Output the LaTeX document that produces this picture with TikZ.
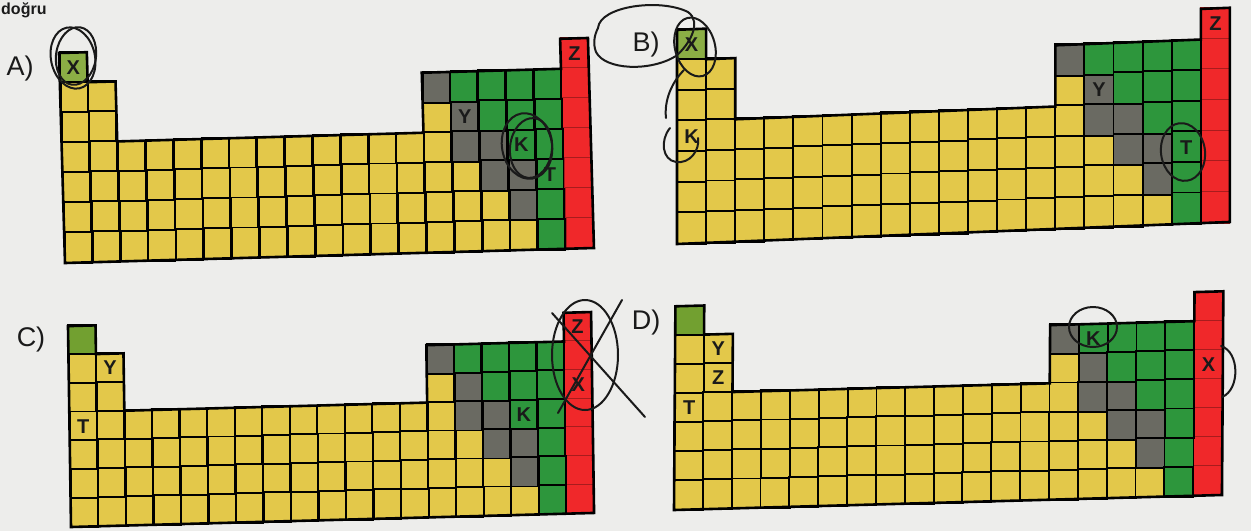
\documentclass[tikz,border=0pt]{standalone}
\usepackage{fontspec}
\setmainfont{Liberation Sans}

\definecolor{paper}{HTML}{EDEDEB}
\definecolor{ptyel}{HTML}{E3C84A}
\definecolor{ptgrn}{HTML}{2D963C}
\definecolor{ptgry}{HTML}{6A6A62}
\definecolor{ptred}{HTML}{F0282A}
\definecolor{ptolia}{HTML}{8BAE45}
\definecolor{ptolib}{HTML}{72A030}
\definecolor{ink}{HTML}{1A1A1A}

\tikzset{
  cellbox/.style={draw=black, line width=1.9pt},
  redbox/.style={fill=ptred, draw=ptred!70!black, line width=1pt},
  rim/.style={draw=black, line width=2.6pt, line join=miter},
  elem/.style={font=\bfseries\fontsize{20}{20}\selectfont, inner sep=0pt, text=ink},
  optlab/.style={font=\fontsize{27}{27}\selectfont, inner sep=0pt, text=ink},
  pen/.style={draw=ink, line width=2pt, line cap=round},
}

% one cell: colour, column, row (row 1 at the top)
\newcommand\ptcell[3]{\path[cellbox,fill=#1] (#2-1,7-#3) rectangle (#2,8-#3);}
% one lettered cell: node name, column, row, letter
\newcommand\ptlab[4]{\node[elem] (#1) at (#2-0.5,7.5-#3) {#4};}

% a 19-column table: bottom-left corner (#1,#2), column step (#3,#4),
% row step (#5,#6), colour of the first cell #7, lettered cells #8
\newcommand\ptable[8]{%
  \begin{scope}[shift={(#1,#2)}, x={(#3pt,#4pt)}, y={(#5pt,#6pt)}]
    \foreach \r in {1,...,7}{\path[redbox] (18,7-\r) rectangle (19,8-\r);}
    \ptcell{#7}{1}{1}
    \foreach \c in {1,2}{\foreach \r in {2,...,7}{\ptcell{ptyel}{\c}{\r}}}
    \foreach \c in {3,...,13}{\foreach \r in {4,...,7}{\ptcell{ptyel}{\c}{\r}}}
    \foreach \r in {3,...,7}{\ptcell{ptyel}{14}{\r}}
    \foreach \c/\r in {15/5,15/6,15/7,16/6,16/7,17/7}{\ptcell{ptyel}{\c}{\r}}
    \foreach \c/\r in {14/2,15/3,15/4,16/4,16/5,17/5,17/6}{\ptcell{ptgry}{\c}{\r}}
    \foreach \c/\r in {15/2,16/2,17/2,18/2,16/3,17/3,18/3,17/4,18/4,18/5,18/6,18/7}{\ptcell{ptgrn}{\c}{\r}}
    \draw[rim] (0,0) -- (0,7) -- (1,7) -- (1,6) -- (2,6) -- (2,4) -- (13,4) -- (13,6)
      -- (18,6) -- (18,7) -- (19,7) -- (19,0) -- cycle;
    #8
  \end{scope}}

\begin{document}
\begin{tikzpicture}[x=1pt, y=-1pt]
  \fill[paper] (0,0) rectangle (1251,531);
  \useasboundingbox (0,0) rectangle (1251,531);

  % heading line
  \node[anchor=base west, inner sep=0pt, font=\bfseries\fontsize{16}{16}\selectfont, text=ink]
    (head) at (1,14) {doğru};

  % option labels
  \node[optlab] (optA) at (20,69) {A)};
  \node[optlab] (optB) at (646,45) {B)};
  \node[optlab] (optC) at (31,340) {C)};
  \node[optlab] (optD) at (646,323) {D)};

  % option A
  \ptable{65}{263}{27.84}{0.79}{-0.86}{30}{ptolia}{%
    \ptlab{aX}{1}{1}{X}\ptlab{aY}{15}{3}{Y}\ptlab{aK}{17}{4}{K}%
    \ptlab{aT}{18}{5}{T}\ptlab{aZ}{19}{1}{Z}}
  % option B
  \ptable{677}{244}{29.1}{1.16}{0}{30.6}{ptolia}{%
    \ptlab{bX}{1}{1}{X}\ptlab{bK}{1}{4}{K}\ptlab{bY}{15}{3}{Y}%
    \ptlab{bT}{18}{5}{T}\ptlab{bZ}{19}{1}{Z}}
  % option C
  \ptable{71}{527}{27.53}{0.74}{-0.43}{28.7}{ptolib}{%
    \ptlab{cY}{2}{2}{Y}\ptlab{cT}{1}{4}{T}\ptlab{cK}{17}{4}{K}%
    \ptlab{cZ}{19}{1}{Z}\ptlab{cX}{19}{3}{X}}
  % option D
  \ptable{674}{510}{28.84}{0.79}{0.2}{29.1}{ptolib}{%
    \ptlab{dY}{2}{2}{Y}\ptlab{dZ}{2}{3}{Z}\ptlab{dT}{1}{4}{T}%
    \ptlab{dK}{15}{2}{K}\ptlab{dX}{19}{3}{X}}

  % pen marks
  \draw[pen, rotate around={12:(73,58)}] (73,58) ellipse [x radius=22, y radius=31];
  \draw[pen, rotate around={-8:(76,56)}] (76,56) ellipse [x radius=20, y radius=29];
  \draw[pen, rotate around={10:(527,146)}] (527,146) ellipse [x radius=25, y radius=33];
  \draw[pen, rotate around={-6:(531,148)}] (531,148) ellipse [x radius=21, y radius=30];

  \draw[pen] (598,28) .. controls (600,6) and (660,-2) .. (688,12)
    .. controls (702,22) and (690,44) .. (676,56)
    .. controls (650,72) and (605,70) .. (596,52) .. controls (593,44) and (594,36) .. (598,28);
  \draw[pen, rotate around={15:(695,47)}] (695,47) ellipse [x radius=20, y radius=30];
  \draw[pen] (684,70) .. controls (672,82) and (664,100) .. (666,118);
  \draw[pen] (670,128) .. controls (660,140) and (662,160) .. (676,162)
    .. controls (690,164) and (700,150) .. (698,138);
  \draw[pen, rotate around={8:(1183,152)}] (1183,152) ellipse [x radius=22, y radius=29];

  \draw[pen] (585,355) ellipse [x radius=33, y radius=55];
  \draw[pen] (552,313) -- (645,417);
  \draw[pen] (622,300) -- (558,413);

  \draw[pen] (1093,327) ellipse [x radius=24, y radius=20];
  \draw[pen] (1221,346) .. controls (1240,352) and (1240,390) .. (1222,397);
\end{tikzpicture}
\end{document}
